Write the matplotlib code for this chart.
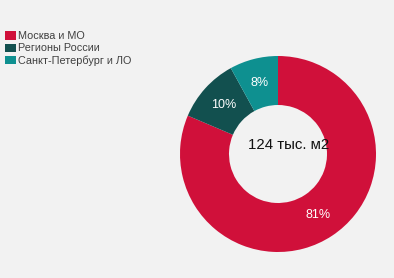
import numpy as np
import matplotlib.pyplot as plt
from matplotlib.patches import Patch

# данные
categories = ['Москва и МО', 'Регионы России', 'Санкт-Петербург и ЛО']
shares = [81.4, 10.6, 8.0]
pct_labels = ['81%', '10%', '8%']
total_label = '124 тыс. м2'
colors = ['#D0103A', '#12504F', '#0E9090']

plt.rcParams['font.family'] = ['Liberation Sans', 'DejaVu Sans']
bg = '#F2F2F2'

fig = plt.figure(figsize=(3.94, 2.78), dpi=100, facecolor=bg)
W, H = 394, 278
cx, cy, r = 278, 154, 98
ax = fig.add_axes([(cx - r) / W, (H - cy - r) / H, 2 * r / W, 2 * r / H])
ax.set_facecolor(bg)

wedges, texts = ax.pie(shares, colors=colors, startangle=90, counterclock=False,
                       radius=1, wedgeprops=dict(width=0.5, edgecolor='none'))
for w, lab in zip(wedges, pct_labels):
    ang = np.deg2rad((w.theta1 + w.theta2) / 2)
    ax.text(0.75 * np.cos(ang), 0.75 * np.sin(ang), lab, color='white',
            fontsize=9, ha='center', va='center')
ax.text(0.11, 0.09, total_label, fontsize=10.8, ha='center', va='center', color='#111111')
ax.set_xlim(-1, 1)
ax.set_ylim(-1, 1)
ax.axis('off')

handles = [Patch(facecolor=c, edgecolor='none') for c in colors]
fig.legend(handles, categories, loc='upper left', bbox_to_anchor=(0.004, 1 - 28 / H),
           frameon=False, fontsize=7.8, handlelength=1.0, handleheight=0.8,
           handletextpad=0.25, labelspacing=0.2, borderaxespad=0, borderpad=0.3,
           labelcolor='#404040')

fig.savefig('out.png', dpi=100, facecolor=bg)
